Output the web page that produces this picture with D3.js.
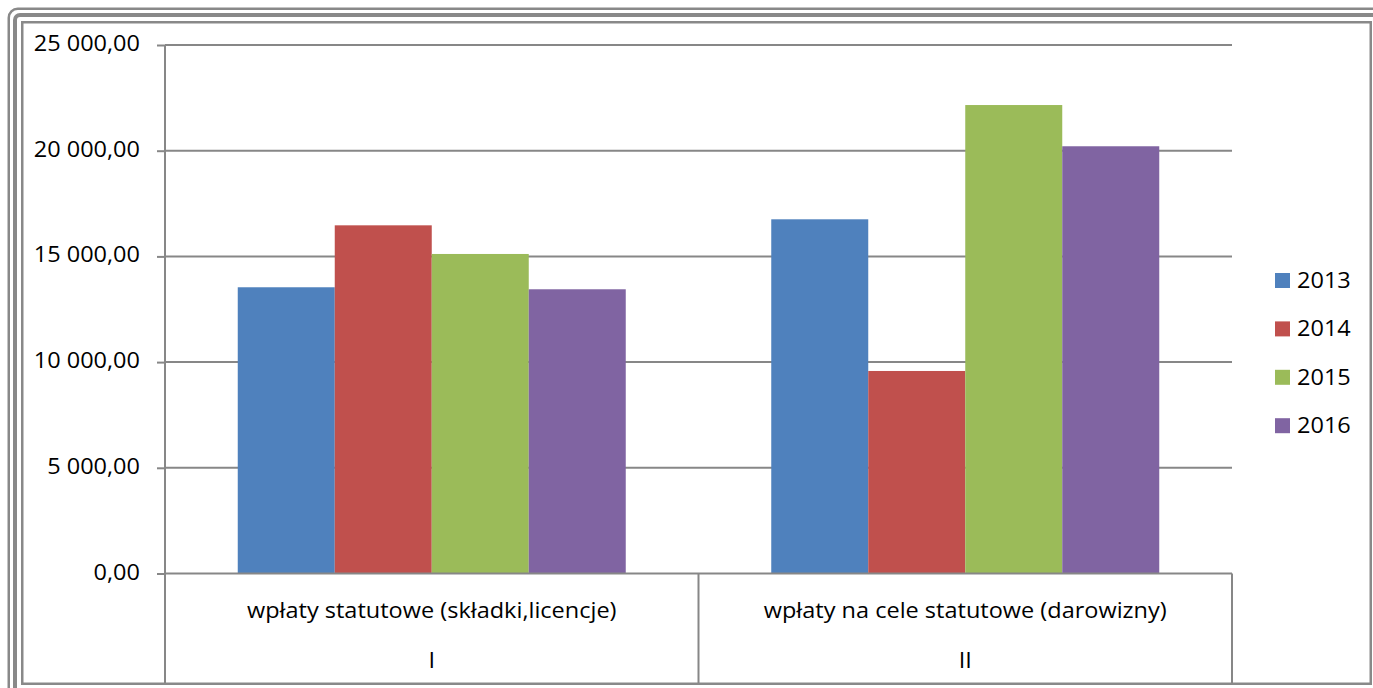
<!DOCTYPE html>
<html><head><meta charset="utf-8">
<script src="https://cdn.jsdelivr.net/npm/d3@7"></script>
<style>body{margin:0;background:#fff;}svg{display:block;}</style>
</head><body>
<script>
const categories = ["I", "II"];
const categoryLabels = ["wpłaty statutowe (składki,licencje)", "wpłaty na cele statutowe (darowizny)"];
const seriesNames = ["2013", "2014", "2015", "2016"];
const seriesColors = ["#4F81BD", "#C0504D", "#9BBB59", "#8064A2"];
const values2013 = [13540, 16755];
const values2014 = [16470, 9580];
const values2015 = [15115, 22160];
const values2016 = [13445, 20210];
const yTicks = [0, 5000, 10000, 15000, 20000, 25000];
const seriesValues = [values2013, values2014, values2015, values2016];

const W = 1373, H = 688;
const FONT = "'Open Sans', 'Noto Sans', sans-serif";
const FS = 21, SX = 1.12;
const svg = d3.select("body").append("svg").attr("width", W).attr("height", H);

// frame
const frameColor = "#898989";
svg.append("rect").attr("x", 8.75).attr("y", 8.75).attr("width", 1420).attr("height", 720)
  .attr("rx", 9).attr("fill", "none").attr("stroke", frameColor).attr("stroke-width", 2.5);
svg.append("rect").attr("x", 15).attr("y", 15).attr("width", 1410).attr("height", 710)
  .attr("rx", 5).attr("fill", "none").attr("stroke", frameColor).attr("stroke-width", 4);
svg.append("rect").attr("x", 22.25).attr("y", 22.25).attr("width", 1348.5).attr("height", 661.5)
  .attr("fill", "#fff").attr("stroke", frameColor).attr("stroke-width", 2.5);

const x0 = 165, x1 = 1232, yTop = 45, yBot = 573.5, yCatBot = 683;
const y = d3.scaleLinear().domain([0, 25000]).range([yBot, yTop]);
const xCat = d3.scaleBand().domain(categories).range([x0, x1]).padding(0);
const xSer = d3.scaleBand().domain(seriesNames).range([0, xCat.bandwidth()]).paddingInner(0).paddingOuter(0.75);

const grid = "#878787";
svg.append("g").selectAll("line").data(yTicks.filter(d => d > 0)).join("line")
  .attr("x1", x0).attr("x2", x1).attr("y1", d => y(d)).attr("y2", d => y(d))
  .attr("stroke", grid).attr("stroke-width", 2);

const data = [];
seriesNames.forEach((s, si) => categories.forEach((c, ci) => data.push({s, c, v: seriesValues[si][ci], color: seriesColors[si]})));
svg.append("g").selectAll("rect").data(data).join("rect")
  .attr("x", d => xCat(d.c) + xSer(d.s)).attr("width", xSer.bandwidth())
  .attr("y", d => y(d.v)).attr("height", d => y(0) - y(d.v)).attr("fill", d => d.color);

const fmt = v => d3.format(",.2f")(v).replace(/,/g, " ").replace(".", ",");
const yAxis = d3.axisLeft(y).tickValues(yTicks).tickSize(8).tickFormat(fmt);
const ga = svg.append("g").attr("transform", `translate(${x0},0)`).call(yAxis);
ga.select(".domain").remove();
ga.selectAll(".tick line").attr("stroke", grid).attr("stroke-width", 2);
ga.selectAll(".tick text").remove();
yTicks.forEach(t => {
  svg.append("text").attr("transform", `translate(140,${y(t) + 6}) scale(${SX},1)`)
    .attr("text-anchor", "end").attr("font-family", FONT).attr("font-size", FS).attr("fill", "#000").text(fmt(t));
});
svg.append("line").attr("x1", x0).attr("x2", x0).attr("y1", yTop).attr("y2", yCatBot).attr("stroke", grid).attr("stroke-width", 2);

svg.append("line").attr("x1", x0).attr("x2", x1).attr("y1", yBot).attr("y2", yBot).attr("stroke", grid).attr("stroke-width", 2);
categories.forEach(c => {
  const xr = xCat(c) + xCat.bandwidth();
  svg.append("line").attr("x1", xr).attr("x2", xr).attr("y1", yBot).attr("y2", yCatBot).attr("stroke", grid).attr("stroke-width", 2);
});
categories.forEach((c, i) => {
  const cx = xCat(c) + xCat.bandwidth() / 2;
  svg.append("text").attr("transform", `translate(${cx},618) scale(${SX},1)`).attr("text-anchor", "middle")
    .attr("font-family", FONT).attr("font-size", FS).attr("fill", "#000").text(categoryLabels[i]);
  svg.append("text").attr("transform", `translate(${cx},668) scale(${SX},1)`).attr("text-anchor", "middle")
    .attr("font-family", FONT).attr("font-size", FS).attr("fill", "#000").text(c);
});

const leg = svg.append("g");
seriesNames.forEach((s, i) => {
  const ly = 273 + i * 48.4;
  leg.append("rect").attr("x", 1275).attr("y", ly).attr("width", 15).attr("height", 15).attr("fill", seriesColors[i]);
  leg.append("text").attr("transform", `translate(1297,${ly + 15}) scale(${SX},1)`)
    .attr("font-family", FONT).attr("font-size", FS).attr("fill", "#000").text(s);
});
</script>
</body></html>
